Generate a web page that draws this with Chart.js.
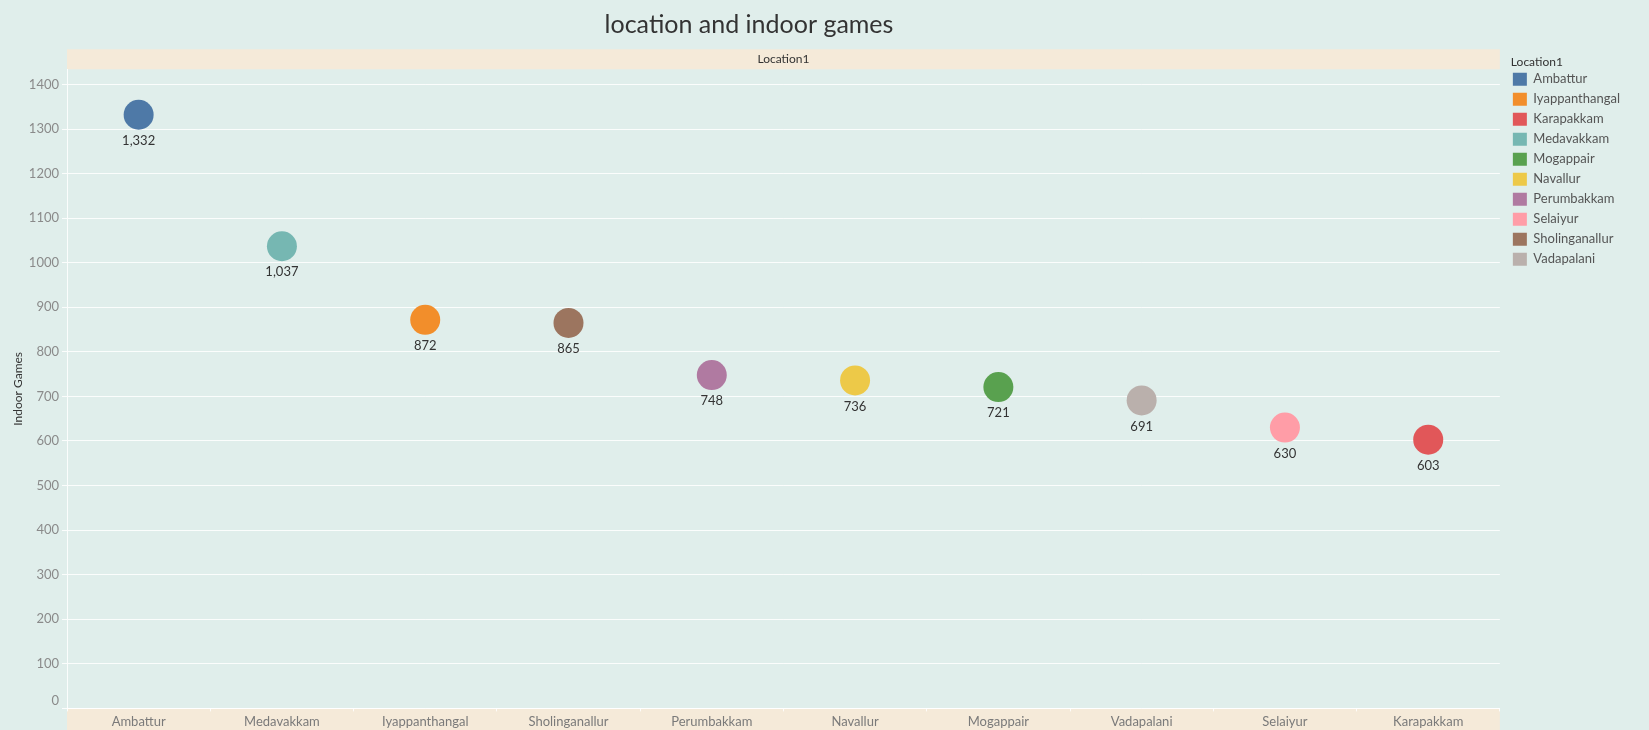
<!DOCTYPE html>
<html>
<head>
<meta charset="utf-8">
<script src="https://cdn.jsdelivr.net/npm/chart.js@4.4.1/dist/chart.umd.min.js"></script>
<style>
  html, body { margin: 0; padding: 0; background: #e0eeeb; }
  #wrap { width: 1649px; height: 730px; }
</style>
</head>
<body>
<div id="wrap"><canvas id="c" width="1649" height="730"></canvas></div>
<script>
// ---- data ----
const chartTitle = 'location and indoor games';
const facetHeader = 'Location1';
const legendTitle = 'Location1';
const yAxisTitle = 'Indoor Games';
const categories = ['Ambattur', 'Medavakkam', 'Iyappanthangal', 'Sholinganallur', 'Perumbakkam', 'Navallur', 'Mogappair', 'Vadapalani', 'Selaiyur', 'Karapakkam'];
const indoorGames = [1332, 1037, 872, 865, 748, 736, 721, 691, 630, 603];
const legendOrder = ['Ambattur', 'Iyappanthangal', 'Karapakkam', 'Medavakkam', 'Mogappair', 'Navallur', 'Perumbakkam', 'Selaiyur', 'Sholinganallur', 'Vadapalani'];
const legendColors = ['#4e79a7', '#f28e2b', '#e15759', '#76b7b2', '#59a14f', '#edc948', '#b07aa1', '#ff9da7', '#9c755f', '#bab0ac'];
const yTickStep = 100;
const yMin = 0;
const yMax = 1434;

// ---- build datasets ----
const datasets = legendOrder.map((name, i) => {
  const idx = categories.indexOf(name);
  return {
    label: name,
    data: [{ x: name, y: indoorGames[idx] }],
    backgroundColor: legendColors[i],
    borderColor: legendColors[i],
    borderWidth: 0,
    pointBackgroundColor: legendColors[i],
    pointBorderWidth: 0,
    pointRadius: 15,
    pointHoverRadius: 15,
    showLine: false
  };
});

const FONT = 'Lato, "Open Sans", sans-serif';

const decor = {
  id: 'decor',
  beforeDraw(chart) {
    const ctx = chart.ctx;
    const a = chart.chartArea;
    ctx.save();
    ctx.fillStyle = '#e0eeeb';
    ctx.fillRect(0, 0, chart.width, chart.height);
    // facet header band
    ctx.fillStyle = '#f5ead9';
    ctx.fillRect(a.left, a.top - 20, a.right - a.left, 20);
    // category band
    ctx.fillRect(a.left, a.bottom, a.right - a.left, chart.height - a.bottom);
    // main title
    ctx.fillStyle = '#333333';
    ctx.font = '25px ' + FONT;
    ctx.textAlign = 'center';
    ctx.textBaseline = 'alphabetic';
    ctx.fillText(chartTitle, 749, 33);
    ctx.restore();
  },
  afterDatasetsDraw(chart) {
    const ctx = chart.ctx;
    ctx.save();
    ctx.fillStyle = '#333333';
    ctx.font = '13px ' + FONT;
    ctx.textAlign = 'center';
    ctx.textBaseline = 'middle';
    chart.data.datasets.forEach((ds, i) => {
      const meta = chart.getDatasetMeta(i);
      const el = meta.data[0];
      if (!el) return;
      ctx.fillText(ds.data[0].y.toLocaleString('en-US'), el.x, el.y + 26);
    });
    ctx.restore();
  },
  afterDraw(chart) {
    const ctx = chart.ctx;
    const lg = chart.legend;
    ctx.save();
    ctx.fillStyle = '#333333';
    ctx.font = '12px ' + FONT;
    ctx.textAlign = 'left';
    ctx.textBaseline = 'middle';
    ctx.fillText(legendTitle, lg.left + 5, 62);
    ctx.restore();
  }
};

const gridColor = 'rgba(255,255,255,0.85)';

new Chart(document.getElementById('c'), {
  type: 'line',
  data: { labels: categories, datasets },
  plugins: [decor],
  options: {
    responsive: false,
    animation: false,
    devicePixelRatio: 1,
    layout: { padding: { top: 49.3, left: 0, right: 19, bottom: 0 } },
    plugins: {
      tooltip: { enabled: false },
      title: {
        display: true,
        text: facetHeader,
        fullSize: false,
        color: '#333333',
        font: { family: FONT, size: 12, weight: 'normal', lineHeight: 1 },
        padding: { top: 4, bottom: 4 }
      },
      legend: {
        display: true,
        position: 'right',
        align: 'start',
        title: {
          display: true,
          text: legendTitle,
          position: 'start',
          color: 'rgba(0,0,0,0)',
          font: { family: FONT, size: 12, weight: 'normal', lineHeight: 0.72 },
          padding: { top: 5.7, bottom: 2 }
        },
        labels: {
          boxWidth: 14,
          boxHeight: 13,
          padding: 7,
          color: '#555555',
          font: { family: FONT, size: 13 }
        }
      }
    },
    scales: {
      x: {
        type: 'category',
        offset: true,
        grid: { display: true, drawOnChartArea: false, drawTicks: true, tickLength: 3, offset: true, color: gridColor },
        border: { display: true, color: gridColor },
        ticks: { color: '#7a7a7a', font: { family: FONT, size: 13 }, padding: 2.5, autoSkip: false, maxRotation: 0 },
        afterFit(s) { s.height = 21.6; }
      },
      y: {
        type: 'linear',
        min: yMin,
        max: yMax,
        grid: { color: gridColor, drawTicks: true, tickLength: 5 },
        border: { display: true, color: gridColor },
        ticks: {
          stepSize: yTickStep,
          includeBounds: false,
          color: '#8a8a8a',
          font: { family: FONT, size: 13 },
          padding: 3,
          callback: (v) => (v === 0 ? ['0', ''] : String(v))
        },
        title: { display: true, text: yAxisTitle, color: '#333333', font: { family: FONT, size: 12 }, padding: { top: 10.5, bottom: 0 } },
        afterFit(s) { s.width = 67; }
      },
      y2: {
        type: 'linear',
        position: 'right',
        display: true,
        grid: { display: false, drawTicks: false },
        border: { display: false },
        ticks: { display: false },
        afterFit(s) { s.width = 6; }
      }
    }
  }
});
</script>
</body>
</html>
